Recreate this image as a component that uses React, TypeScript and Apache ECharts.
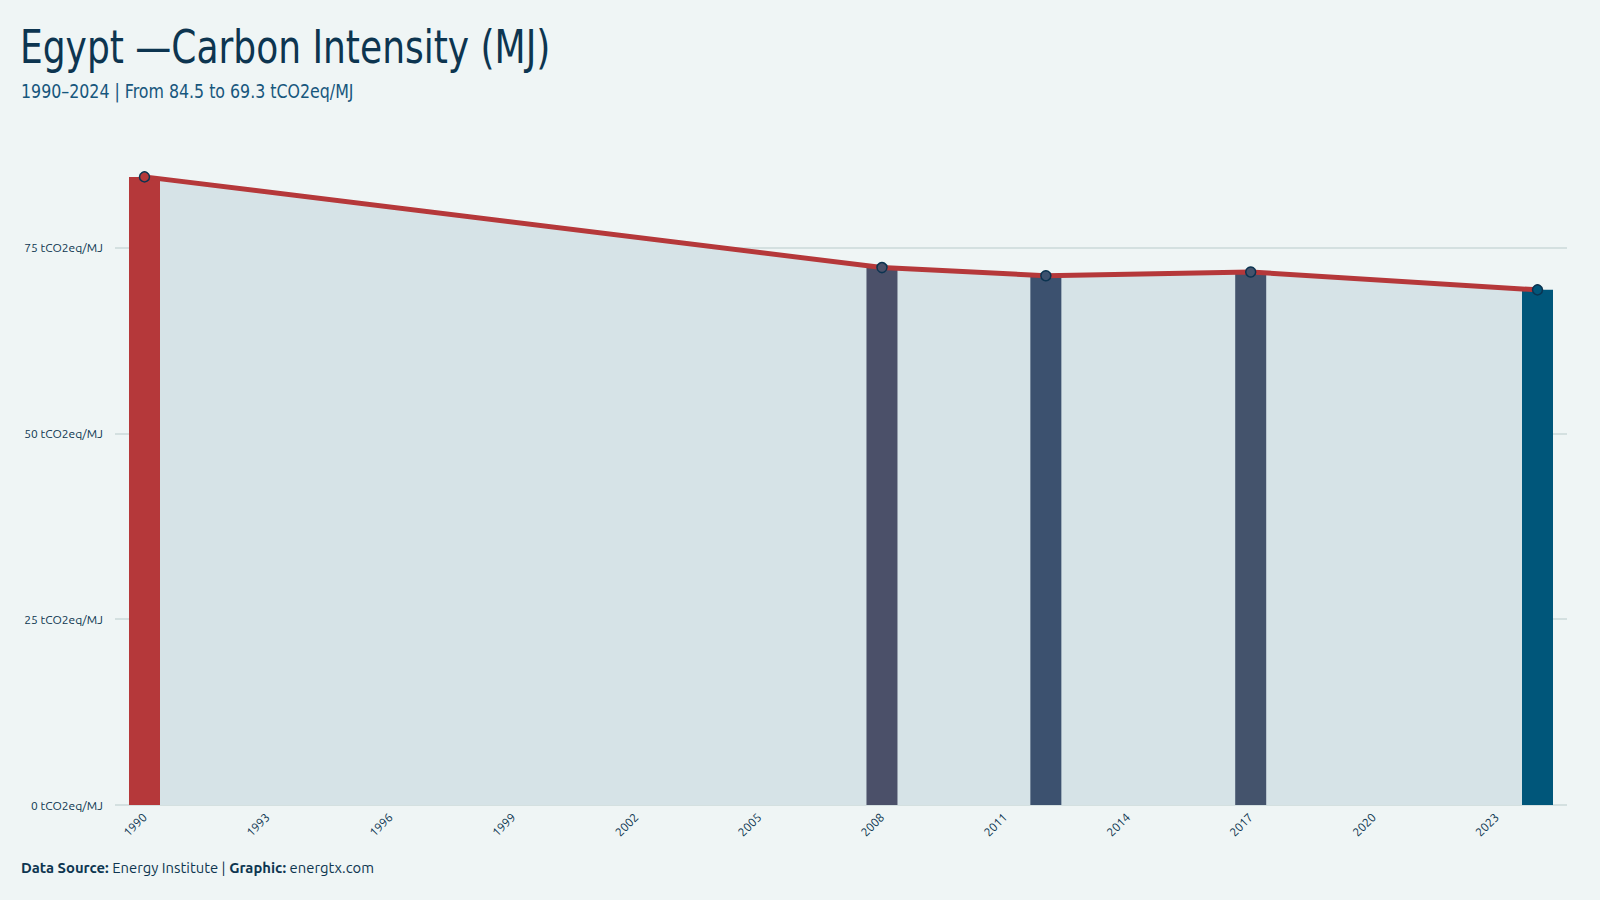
import React, { useEffect, useRef } from "react";
import * as echarts from "echarts";

const years: number[] = [1990, 2008, 2012, 2017, 2024];
const intensity: number[] = [84.5, 72.3, 71.2, 71.7, 69.3];
const barColors: string[] = ["#b5383a", "#4b5069", "#3c516f", "#44536c", "#00567a"];
const xTickYears: number[] = [1990, 1993, 1996, 1999, 2002, 2005, 2008, 2011, 2014, 2017, 2020, 2023];
const yTicks: number[] = [0, 25, 50, 75];

const TITLE = "Egypt \u2014Carbon Intensity (MJ)";
const SUBTITLE = "1990\u20132024 | From 84.5 to 69.3 tCO2eq/MJ";

const DARK = "#0d3550";
const CONDENSED = '"Ubuntu Condensed", "Liberation Sans Narrow", "DejaVu Sans Condensed", "Noto Sans", sans-serif';
const BODY = '"Ubuntu", "Noto Sans", "Open Sans", sans-serif';

export default function App() {
  const ref = useRef<HTMLDivElement>(null);
  useEffect(() => {
    document.body.style.margin = "0";
    const chart = echarts.init(ref.current!, null, { renderer: "svg" });
    const pts = years.map((y, i) => [y, intensity[i]]);
    chart.setOption({
      animation: false,
      backgroundColor: "#eff5f5",
      grid: { left: 115, right: 33, top: 136, bottom: 95, containLabel: false },
      xAxis: {
        type: "value",
        min: 1989.28,
        max: 2024.72,
        axisLine: { show: false },
        axisTick: { show: false },
        splitLine: { show: false },
        axisLabel: {
          customValues: xTickYears,
          rotate: 45,
          margin: 10,
          fontSize: 12,
          color: DARK,
          fontFamily: BODY,
          formatter: (v: number) => String(v),
        },
      },
      yAxis: {
        type: "value",
        min: 0,
        max: 90,
        axisLine: { show: false },
        axisTick: { show: false, customValues: yTicks },
        splitLine: { show: true, lineStyle: { color: "#cbd9d9", width: 1.5 } },
        axisLabel: {
          customValues: yTicks,
          margin: 12,
          fontSize: 12,
          color: DARK,
          fontFamily: BODY,
          formatter: (v: number) => `${v} tCO2eq/MJ`,
        },
      },
      series: [
        {
          type: "line",
          data: pts,
          z: 1,
          symbol: "none",
          lineStyle: { width: 0 },
          areaStyle: { color: "#d6e3e7", opacity: 1 },
          silent: true,
        },
        {
          type: "bar",
          z: 2,
          barWidth: 31,
          data: pts.map((p, i) => ({ value: p, itemStyle: { color: barColors[i] } })),
        },
        {
          type: "line",
          z: 3,
          data: pts.map((p, i) => ({
            value: p,
            itemStyle: { color: barColors[i], borderColor: "#0b3350", borderWidth: 1.5 },
          })),
          symbol: "circle",
          symbolSize: 10,
          lineStyle: { color: "#b5383a", width: 5 },
        },
      ],
      graphic: [
        {
          type: "text",
          left: 20,
          top: 24,
          scaleX: 0.87,
          style: { text: TITLE, fontSize: 46, fontFamily: CONDENSED, fill: DARK },
        },
        {
          type: "text",
          left: 21,
          top: 81,
          scaleX: 0.88,
          style: { text: SUBTITLE, fontSize: 20, fontFamily: CONDENSED, fill: "#17577d" },
        },
        {
          type: "text",
          left: 21,
          top: 861,
          scaleX: 1.06,
          style: {
            text: "{b|Data Source:} Energy Institute | {b|Graphic:} energtx.com",
            fontSize: 14,
            fontFamily: BODY,
            fill: DARK,
            rich: {
              b: { fontWeight: "bold", fontSize: 14, fontFamily: BODY, fill: DARK },
            },
          },
        },
      ],
    });
    return () => chart.dispose();
  }, []);
  return <div ref={ref} style={{ position: "absolute", left: 0, top: 0, width: 1600, height: 900 }} />;
}
